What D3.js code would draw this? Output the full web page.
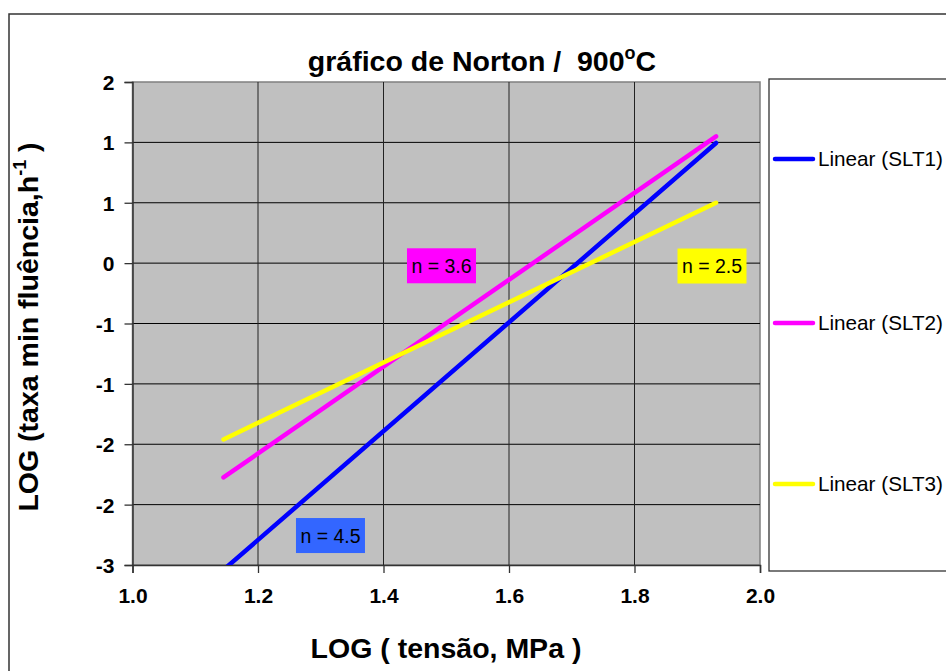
<!DOCTYPE html>
<html>
<head>
<meta charset="utf-8">
<script src="https://cdn.jsdelivr.net/npm/d3@7"></script>
<style>
  body { margin: 0; background: #fff; }
  svg { display: block; }
  text { font-family: "Liberation Sans", Arial, sans-serif; fill: #000; white-space: pre; }
</style>
</head>
<body>
<svg id="chart" width="946" height="671"></svg>
<script>
// Norton plot: log(min creep rate) vs log(stress), linear fits per alloy
const xTicks = [1.0, 1.2, 1.4, 1.6, 1.8, 2.0];
const xTickLabels = ["1.0", "1.2", "1.4", "1.6", "1.8", "2.0"];
const yTicks = [1.5, 1.0, 0.5, 0, -0.5, -1.0, -1.5, -2.0, -2.5];
const yTickLabels = ["2", "1", "1", "0", "-1", "-1", "-2", "-2", "-3"];

const seriesNames = ["Linear (SLT1)", "Linear (SLT2)", "Linear (SLT3)"];
const fitX = [1.145, 1.93];          // log stress range of the fitted lines
const slt1 = [-2.54, 0.995];          // fitted log rate at both ends
const slt2 = [-1.775, 1.05];
const slt3 = [-1.46, 0.50];
const exponents = [4.5, 3.6, 2.5];   // Norton stress exponent n of each fit

const seriesColors = ["#0000FF", "#FF00FF", "#FFFF00"];
const labelFills = ["#3366FF", "#FF00FF", "#FFFF00"];

const svg = d3.select("#chart");
const plot = { left: 132.5, right: 760, top: 82, bottom: 565 };

const x = d3.scaleLinear().domain([1.0, 2.0]).range([plot.left, plot.right]);
const y = d3.scaleLinear().domain([-2.5, 1.5]).range([plot.bottom, plot.top]);

// outer chart frame
svg.append("rect")
  .attr("x", 9).attr("y", 14).attr("width", 960).attr("height", 680)
  .attr("fill", "#fff").attr("stroke", "#333").attr("stroke-width", 1.5);

// plot area
svg.append("rect")
  .attr("x", plot.left).attr("y", plot.top)
  .attr("width", plot.right - plot.left).attr("height", plot.bottom - plot.top)
  .attr("fill", "#C0C0C0").attr("stroke", "#808080").attr("stroke-width", 1.5);

// gridlines
svg.append("g").selectAll("line").data(yTicks.slice(1, -1)).join("line")
  .attr("x1", plot.left).attr("x2", plot.right)
  .attr("y1", d => y(d)).attr("y2", d => y(d))
  .attr("stroke", "#000").attr("stroke-width", 1);
svg.append("g").selectAll("line").data(xTicks.slice(1, -1)).join("line")
  .attr("y1", plot.top).attr("y2", plot.bottom)
  .attr("x1", d => x(d)).attr("x2", d => x(d))
  .attr("stroke", "#222").attr("stroke-width", 1);

// axes
const yAxis = d3.axisLeft(y).tickValues(yTicks)
  .tickFormat((d, i) => yTickLabels[i]).tickSize(8).tickPadding(10);
const xAxis = d3.axisBottom(x).tickValues(xTicks)
  .tickFormat((d, i) => xTickLabels[i]).tickSize(8).tickPadding(15);

const gy = svg.append("g").attr("transform", `translate(${plot.left},0)`).call(yAxis);
const gx = svg.append("g").attr("transform", `translate(0,${plot.bottom})`).call(xAxis);
[gx, gy].forEach(g => {
  g.select(".domain").attr("stroke", "#333").attr("stroke-width", 1.5);
  g.selectAll(".tick line").attr("stroke", "#333").attr("stroke-width", 1.3);
  g.selectAll(".tick text")
    .attr("font-family", "Liberation Sans, Arial, sans-serif")
    .attr("font-size", 21).attr("font-weight", "bold").attr("fill", "#000");
});
gy.selectAll(".tick text").attr("dy", "0.36em");

// fitted lines, clipped to the plot area
svg.append("clipPath").attr("id", "plotClip").append("rect")
  .attr("x", plot.left).attr("y", plot.top)
  .attr("width", plot.right - plot.left).attr("height", plot.bottom - plot.top);

const fits = [slt1, slt2, slt3];
const line = d3.line().x(d => x(d[0])).y(d => y(d[1]));
svg.append("g").attr("clip-path", "url(#plotClip)")
  .selectAll("path").data(fits).join("path")
  .attr("d", ys => line(fitX.map((v, i) => [v, ys[i]])))
  .attr("fill", "none")
  .attr("stroke", (d, i) => seriesColors[i])
  .attr("stroke-width", 4.5)
  .attr("stroke-linecap", "round");

// exponent labels
const labelAnchors = [[1.3155, -2.256], [1.4924, -0.022], [1.9235, -0.024]];
const labels = svg.append("g").selectAll("g").data(exponents).join("g")
  .attr("transform", (d, i) => `translate(${x(labelAnchors[i][0])},${y(labelAnchors[i][1])})`);
labels.append("rect")
  .attr("x", -34.5).attr("y", -17.5).attr("width", 69).attr("height", 35)
  .attr("fill", (d, i) => labelFills[i]);
labels.append("text")
  .attr("text-anchor", "middle").attr("dy", "0.36em")
  .attr("font-size", 19.5)
  .text(d => `n = ${d.toFixed(1)}`);

// legend
svg.append("rect")
  .attr("x", 769).attr("y", 79).attr("width", 200).attr("height", 492)
  .attr("fill", "#fff").attr("stroke", "#333").attr("stroke-width", 1.3);
const legendY = [159, 323, 484];
const leg = svg.append("g").selectAll("g").data(seriesNames).join("g")
  .attr("transform", (d, i) => `translate(775,${legendY[i]})`);
leg.append("line")
  .attr("x1", 0).attr("x2", 38)
  .attr("stroke", (d, i) => seriesColors[i])
  .attr("stroke-width", 4.5).attr("stroke-linecap", "round");
leg.append("text")
  .attr("x", 43).attr("dy", "0.36em")
  .attr("font-size", 20.7)
  .text(d => d);

// titles
const title = svg.append("text")
  .attr("x", 482).attr("y", 71)
  .attr("text-anchor", "middle")
  .attr("font-size", 28.5).attr("font-weight", "bold");
title.append("tspan").text("gráfico de Norton /  900");
title.append("tspan").attr("font-size", 18).attr("dy", -12).text("o");
title.append("tspan").attr("dy", 12).text("C");

svg.append("text")
  .attr("x", 446).attr("y", 658)
  .attr("text-anchor", "middle")
  .attr("font-size", 28.5).attr("font-weight", "bold")
  .text("LOG ( tensão, MPa )");

const yTitle = svg.append("text")
  .attr("transform", "translate(38,327) rotate(-90)")
  .attr("text-anchor", "middle")
  .attr("font-size", 28.5).attr("font-weight", "bold");
yTitle.append("tspan").text("LOG (taxa min fluência,h");
yTitle.append("tspan").attr("font-size", 18).attr("dy", -12).text("-1");
yTitle.append("tspan").attr("dy", 12).text(" )");
</script>
</body>
</html>
